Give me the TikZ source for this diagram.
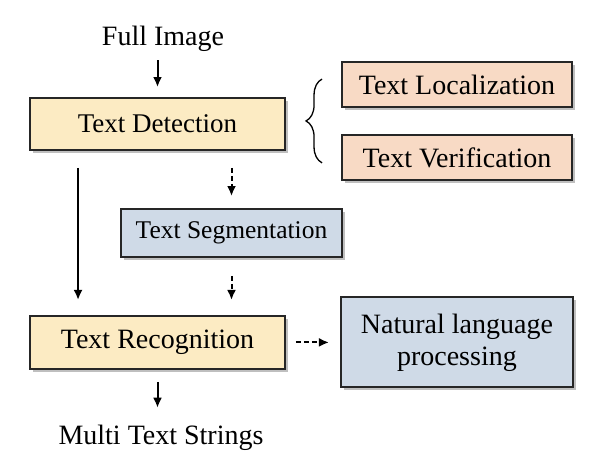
\documentclass[tikz,border=0pt]{standalone}
\usepackage{fontspec}
\setmainfont{Liberation Serif}
\usetikzlibrary{arrows.meta, positioning, calc, shadows, decorations.pathreplacing}

\definecolor{detfill}{HTML}{FCEBC3}
\definecolor{locfill}{HTML}{F8DAC5}
\definecolor{segfill}{HTML}{CFDAE7}

\tikzset{
  stage/.style={draw=black!85, line width=1.9pt, rectangle, inner sep=0pt, align=center,
    drop shadow={shadow xshift=3pt, shadow yshift=-3pt, fill=black!50, opacity=0.5},
    font=\fontsize{28}{32}\selectfont},
  flow/.style={-{Latex[length=10pt, width=9pt]}, line width=2pt},
  maybe/.style={flow, dash pattern=on 5pt off 3pt},
}

\begin{document}
\begin{tikzpicture}[x=1pt, y=-1pt]
    \useasboundingbox (0,0) rectangle (600,469);

    \node (fullimg) at (163,39) [font=\fontsize{28}{31}\selectfont] {Full Image};
    \node (det) at (157.5,124) [stage, fill=detfill, minimum width=255pt, minimum height=52pt, font=\fontsize{27}{31}\selectfont] {Text Detection};
    \node (rec) [stage, fill=detfill, below=164pt of det, minimum width=255pt, minimum height=53pt] {Text Recognition};
    \node (seg) at (231.5,233) [stage, fill=segfill, minimum width=221pt, minimum height=48pt, font=\fontsize{25.5}{29}\selectfont] {Text Segmentation};
    \node (loc) at (457,84.5) [stage, fill=locfill, minimum width=230pt, minimum height=45pt] {Text Localization};
    \node (ver) [stage, fill=locfill, below=26pt of loc, minimum width=230pt, minimum height=45pt] {Text Verification};
    \node (nlp) [stage, fill=segfill, right=54pt of rec, minimum width=232pt, minimum height=90pt] {Natural language\\processing};
    \node (multi) at (161,438) [font=\fontsize{28}{31}\selectfont] {Multi Text Strings};

    % detection steps
    \draw[decorate, decoration={brace, amplitude=16pt}, line width=1.3pt]
        ([xshift=-19pt, yshift=18pt]ver.south west) -- ([xshift=-19pt, yshift=-18pt]loc.north west);

    \draw[flow, shorten <=5pt, shorten >=10pt] (det.north |- fullimg.south) -- (det.north);
    \draw[flow, shorten <=17pt, shorten >=15pt] ([xshift=49pt]det.south west) -- ([xshift=49pt]rec.north west);
    \draw[maybe, shorten <=17pt, shorten >=12pt] (seg.north |- det.south) -- (seg.north);
    \draw[maybe, shorten <=18pt, shorten >=15pt] (seg.south) -- (seg.south |- rec.north);
    \draw[maybe, shorten <=10pt, shorten >=11pt] (rec.east) -- (nlp.west);
    \draw[flow, shorten <=12pt, shorten >=14pt] (rec.south) -- (rec.south |- multi.north);
\end{tikzpicture}
\end{document}
